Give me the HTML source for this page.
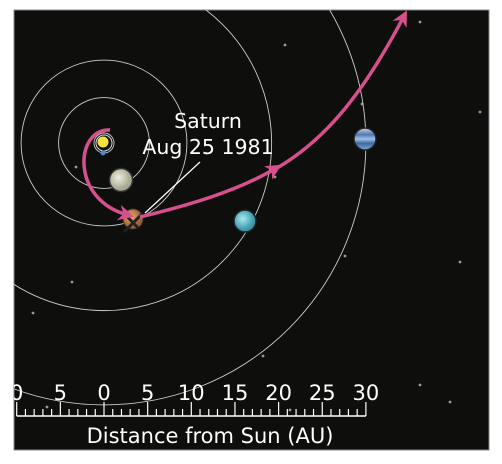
<!DOCTYPE html>
<html><head><meta charset="utf-8"><style>
body{margin:0;background:#fff;width:502px;height:464px;overflow:hidden}
svg{display:block;font-family:"DejaVu Sans","Liberation Sans",sans-serif}
</style></head><body>
<svg id="c" width="502" height="464">
<defs>
<clipPath id="clip"><rect x="14" y="10" width="475" height="440"/></clipPath>
<radialGradient id="sat" cx="40%" cy="40%"><stop offset="0" stop-color="#e8b070"/><stop offset="1" stop-color="#a06030"/></radialGradient>
<radialGradient id="jup" cx="40%" cy="40%"><stop offset="0" stop-color="#f0efe0"/><stop offset="1" stop-color="#a8a890"/></radialGradient>
<radialGradient id="ura" cx="40%" cy="40%"><stop offset="0" stop-color="#a8e8ee"/><stop offset="1" stop-color="#3a98a8"/></radialGradient>
<linearGradient id="nep" x1="0" y1="0" x2="0" y2="1"><stop offset="0" stop-color="#c8d8f0"/><stop offset="0.3" stop-color="#5078b0"/><stop offset="0.5" stop-color="#a0c0e8"/><stop offset="0.7" stop-color="#3e68a0"/><stop offset="1" stop-color="#8aa8d8"/></linearGradient>
<marker id="ah" viewBox="0 0 10 10" refX="6" refY="5" markerWidth="4.5" markerHeight="4.5" orient="auto"><path d="M0,0 L10,5 L0,10 L3,5 Z" fill="#d6508e"/></marker>
</defs>
<rect x="14" y="10" width="475" height="440" fill="#0e0e0d" stroke="#888" stroke-width="1"/>
<g clip-path="url(#clip)">
<g id="stars"></g>
<g id="orbits"></g>
<g id="scale"></g>
<g id="bodies"></g>
</g>
<text x="208" y="128" fill="#fff" font-size="20.5" text-anchor="middle">Saturn</text>
<text x="208" y="154" fill="#fff" font-size="20.5" text-anchor="middle">Aug 25 1981</text>
<line x1="200" y1="162" x2="145" y2="213" stroke="#fff" stroke-width="1.2"/>
<path d="M110,130 C75,128 70,200 128,215" fill="none" stroke="#d6508e" stroke-width="3.5" marker-end="url(#ah)"/>
<path d="M140,217 C190,205 240,190 276,168" fill="none" stroke="#d6508e" stroke-width="3.5" marker-end="url(#ah)"/>
<path d="M270,172 C320,145 360,100 404,16" fill="none" stroke="#d6508e" stroke-width="3.5" marker-end="url(#ah)"/>
<text x="210" y="443" fill="#fff" font-size="21" text-anchor="middle">Distance from Sun (AU)</text>
</svg>
<script>
const orbitAU=[1,5.2,9.5,19.2,30];
const tickLabels=["0","5","0","5","10","15","20","25","30"];
const tickAU=[-10,-5,0,5,10,15,20,25,30];
const stars=[[285,45],[420,22],[362,104],[480,112],[76,167],[275,177],[460,262],[345,256],[72,282],[33,313],[263,356],[420,385],[450,402],[47,407],[290,410]];
const sunX=104,sunY=143,pxPerAU=8.73;
const ns="http://www.w3.org/2000/svg";
function X(au){return sunX+au*pxPerAU;}
function mk(tag,attrs,parent){const e=document.createElementNS(ns,tag);for(const k in attrs)e.setAttribute(k,attrs[k]);document.getElementById(parent).appendChild(e);return e;}
stars.forEach(s=>{const e=mk('circle',{cx:s[0],cy:s[1],r:1.4,fill:'#999'},'stars');

});
orbitAU.forEach(a=>{if(a<2)return;const e=mk('circle',{cx:sunX,cy:sunY,r:a*pxPerAU,fill:'none',stroke:'#ccc','stroke-width':0.9},'orbits');

});
const ey=mk('circle',{cx:sunX,cy:sunY,r:10,fill:'none',stroke:'#ccc','stroke-width':0.9},'orbits');


const base=416;
const bl=mk('line',{x1:X(-10),y1:base,x2:X(30),y2:base,stroke:'#fff','stroke-width':1.5},'scale');


for(let a=-10;a<=30;a++){const maj=a%5===0;const t=mk('line',{x1:X(a),y1:maj?402:409,x2:X(a),y2:base,stroke:'#fff','stroke-width':1.2},'scale');

}
tickAU.forEach((a,i)=>{const t=mk('text',{x:X(a),y:400,fill:'#fff','font-size':21,'text-anchor':'middle'},'scale');t.textContent=tickLabels[i];

});
let b;
b=mk('circle',{cx:sunX,cy:sunY,r:8,fill:'none',stroke:'#ddd','stroke-width':1},'bodies');

b=mk('circle',{cx:103,cy:142,r:5.5,fill:'#f5e23a'},'bodies');

b=mk('circle',{cx:103,cy:153,r:2.5,fill:'#4a8ad0'},'bodies');

b=mk('circle',{cx:121,cy:180,r:11.5,fill:'url(#jup)',stroke:'#333','stroke-width':1.5},'bodies');

b=mk('circle',{cx:133,cy:219,r:10,fill:'url(#sat)',stroke:'#333','stroke-width':1},'bodies');

b=mk('path',{d:'M122,211 L138,228 M124,232 L142,214',stroke:'#222','stroke-width':3},'bodies');

b=mk('circle',{cx:245,cy:221,r:11,fill:'url(#ura)',stroke:'#222','stroke-width':1.5},'bodies');

b=mk('circle',{cx:365,cy:139,r:11,fill:'url(#nep)',stroke:'#222','stroke-width':1.5},'bodies');

</script>
</body></html>
